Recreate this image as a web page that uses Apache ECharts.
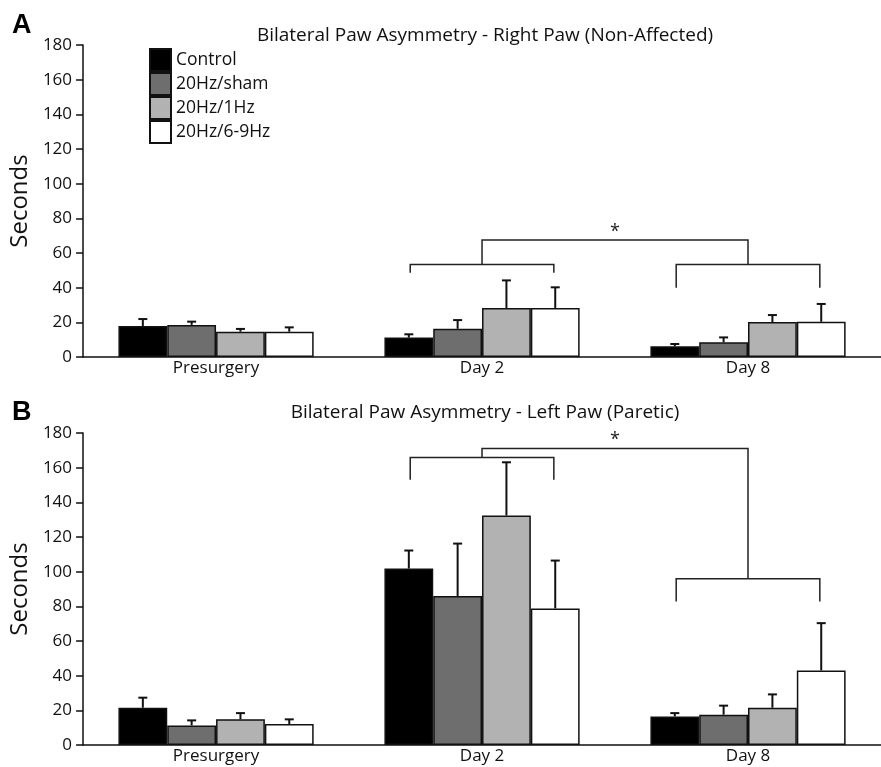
<!DOCTYPE html>
<html>
<head>
<meta charset="utf-8">
<script src="https://cdn.jsdelivr.net/npm/echarts@6/dist/echarts.min.js"></script>
<style>
  html, body { margin: 0; padding: 0; background: #fff; }
  #chart { width: 881px; height: 767px; }
</style>
</head>
<body>
<div id="chart"></div>
<script>
// categories and groups
const categories = ['Presurgery', 'Day 2', 'Day 8'];
const groups = ['Control', '20Hz/sham', '20Hz/1Hz', '20Hz/6-9Hz'];
const groupColors = ['#000000', '#6e6e6e', '#b2b2b2', '#ffffff'];
const yTicks = [0, 20, 40, 60, 80, 100, 120, 140, 160, 180];

// panel A - right paw (non-affected), one row per group
const rightMeans = [
  [17.9, 11.2, 6.2],
  [18.5, 16.3, 8.5],
  [14.6, 28.3, 20.2],
  [14.6, 28.3, 20.3]
];
const rightSem = [
  [4.0, 1.9, 1.3],
  [1.9, 5.0, 2.8],
  [1.6, 15.9, 4.0],
  [2.5, 11.9, 10.3]
];

// panel B - left paw (paretic)
const leftMeans = [
  [21.5, 101.8, 16.5],
  [11.3, 86.0, 17.5],
  [14.8, 132.4, 21.5],
  [12.1, 78.8, 43.0]
];
const leftSem = [
  [5.8, 10.4, 1.9],
  [2.9, 30.2, 5.2],
  [3.6, 30.7, 7.7],
  [2.7, 27.6, 27.3]
];

// significance brackets, x in category units (0..3): [xLeft, xRight, yBar, yLegEnd]
const rightBrackets = [[1.23, 1.77, 53.3, 48.6], [2.23, 2.77, 53.3, 40.0]];
const rightLink = [1.5, 2.5, 67.5];
const rightStar = [2.0, 72];
const leftBrackets = [[1.23, 1.77, 165.8, 153.1], [2.23, 2.77, 95.9, 82.8]];
const leftLink = [1.5, 2.5, 171.0];
const leftStar = [2.0, 176];

const FONT = 'Open Sans';
const GAP = 0.266;
const INK = '#111';

const chart = echarts.init(document.getElementById('chart'));

function barSeries(means, xi, yi) {
  return groups.map((g, i) => ({
    name: g,
    type: 'bar',
    xAxisIndex: xi,
    yAxisIndex: yi,
    barGap: '0%',
    barCategoryGap: (GAP * 100) + '%',
    itemStyle: { color: groupColors[i], borderColor: INK, borderWidth: 1.5 },
    emphasis: { disabled: true },
    data: means[i]
  }));
}

function errorSeries(means, sem, xi, yi) {
  const data = [];
  means.forEach((row, g) => row.forEach((m, c) => data.push([c, m, sem[g][c], g])));
  return {
    type: 'custom',
    xAxisIndex: xi,
    yAxisIndex: yi,
    z: 5,
    silent: true,
    data: data,
    renderItem: function (params, api) {
      const c = api.value(0), m = api.value(1), s = api.value(2), g = api.value(3);
      const band = api.size([1, 0])[0];
      const bw = band * (1 - GAP) / 4;
      const base = api.coord([c, m]);
      const top = api.coord([c, m + s]);
      const x = base[0] + (g - 1.5) * bw;
      const st = { stroke: INK, lineWidth: 2 };
      return {
        type: 'group',
        children: [
          { type: 'line', shape: { x1: x, y1: base[1], x2: x, y2: top[1] }, style: st },
          { type: 'line', shape: { x1: x - 4.5, y1: top[1], x2: x + 4.5, y2: top[1] }, style: st }
        ]
      };
    }
  };
}

function bracketSeries(brackets, link, star, xi, yi) {
  const st = { stroke: '#222', lineWidth: 1.5, fill: null };
  return [
    {
      type: 'custom', xAxisIndex: xi, yAxisIndex: yi, silent: true, z: 6,
      data: brackets,
      renderItem: function (params, api) {
        const a = api.coord([api.value(0), api.value(3)]);
        const b = api.coord([api.value(0), api.value(2)]);
        const c = api.coord([api.value(1), api.value(2)]);
        const d = api.coord([api.value(1), api.value(3)]);
        return { type: 'polyline', shape: { points: [a, b, c, d] }, style: st };
      }
    },
    {
      type: 'custom', xAxisIndex: xi, yAxisIndex: yi, silent: true, z: 6,
      data: [[link[0], link[1], link[2], brackets[0][2], brackets[1][2]]],
      renderItem: function (params, api) {
        const a = api.coord([api.value(0), api.value(3)]);
        const b = api.coord([api.value(0), api.value(2)]);
        const c = api.coord([api.value(1), api.value(2)]);
        const d = api.coord([api.value(1), api.value(4)]);
        return { type: 'polyline', shape: { points: [a, b, c, d] }, style: st };
      }
    },
    {
      type: 'custom', xAxisIndex: xi, yAxisIndex: yi, silent: true, z: 6,
      data: [star],
      renderItem: function (params, api) {
        const p = api.coord([api.value(0), api.value(1)]);
        return {
          type: 'text',
          x: p[0], y: p[1],
          style: { text: '*', fontFamily: FONT, fontSize: 18, fill: '#222', align: 'center', verticalAlign: 'middle' }
        };
      }
    }
  ];
}

function catAxis(gi) {
  return {
    type: 'category',
    gridIndex: gi,
    data: categories,
    axisLine: { lineStyle: { color: INK, width: 1.5 } },
    axisTick: { length: 8, lineStyle: { color: INK, width: 1.5 } },
    axisLabel: { color: INK, fontFamily: FONT, fontSize: 17, margin: 3 }
  };
}
function helperAxis(gi) {
  return { type: 'value', gridIndex: gi, min: 0, max: 3, show: false };
}
function valAxis(gi) {
  return {
    type: 'value',
    gridIndex: gi,
    min: yTicks[0],
    max: yTicks[yTicks.length - 1],
    interval: yTicks[1] - yTicks[0],
    name: 'Seconds',
    nameLocation: 'middle',
    nameGap: 45,
    nameTextStyle: { color: INK, fontFamily: FONT, fontSize: 24 },
    axisLine: { show: true, lineStyle: { color: INK, width: 1.5 } },
    axisTick: { show: true, length: 7, lineStyle: { color: INK, width: 1.5 } },
    axisLabel: { color: INK, fontFamily: FONT, fontSize: 17, margin: 11 },
    splitLine: { show: false }
  };
}

const option = {
  backgroundColor: '#fff',
  animation: false,
  title: [
    { text: 'A', left: 12, top: 12, padding: 0, textStyle: { fontFamily: 'Liberation Sans', fontWeight: 'bold', fontSize: 27, color: '#000' } },
    { text: 'B', left: 12, top: 399, padding: 0, textStyle: { fontFamily: 'Liberation Sans', fontWeight: 'bold', fontSize: 27, color: '#000' } },
    { text: 'Bilateral Paw Asymmetry - Right Paw (Non-Affected)', left: 485, textAlign: 'center', top: 26, padding: 0,
      textStyle: { fontFamily: FONT, fontWeight: 'normal', fontSize: 19, color: INK } },
    { text: 'Bilateral Paw Asymmetry - Left Paw (Paretic)', left: 485, textAlign: 'center', top: 403, padding: 0,
      textStyle: { fontFamily: FONT, fontWeight: 'normal', fontSize: 19, color: INK } }
  ],
  legend: {
    data: groups,
    orient: 'vertical',
    left: 149,
    top: 48,
    padding: 0,
    itemWidth: 21,
    itemHeight: 22,
    itemGap: 0,
    icon: 'rect',
    selectedMode: false,
    textStyle: { color: INK, fontFamily: FONT, fontSize: 17.5 }
  },
  grid: [
    { left: 81, top: 45, width: 809, height: 312 },
    { left: 81, top: 433, width: 809, height: 312 }
  ],
  xAxis: [catAxis(0), helperAxis(0), catAxis(1), helperAxis(1)],
  yAxis: [valAxis(0), valAxis(1)],
  series: [].concat(
    barSeries(rightMeans, 0, 0),
    [errorSeries(rightMeans, rightSem, 0, 0)],
    bracketSeries(rightBrackets, rightLink, rightStar, 1, 0),
    barSeries(leftMeans, 2, 1),
    [errorSeries(leftMeans, leftSem, 2, 1)],
    bracketSeries(leftBrackets, leftLink, leftStar, 3, 1)
  )
};

chart.setOption(option);
</script>
</body>
</html>
